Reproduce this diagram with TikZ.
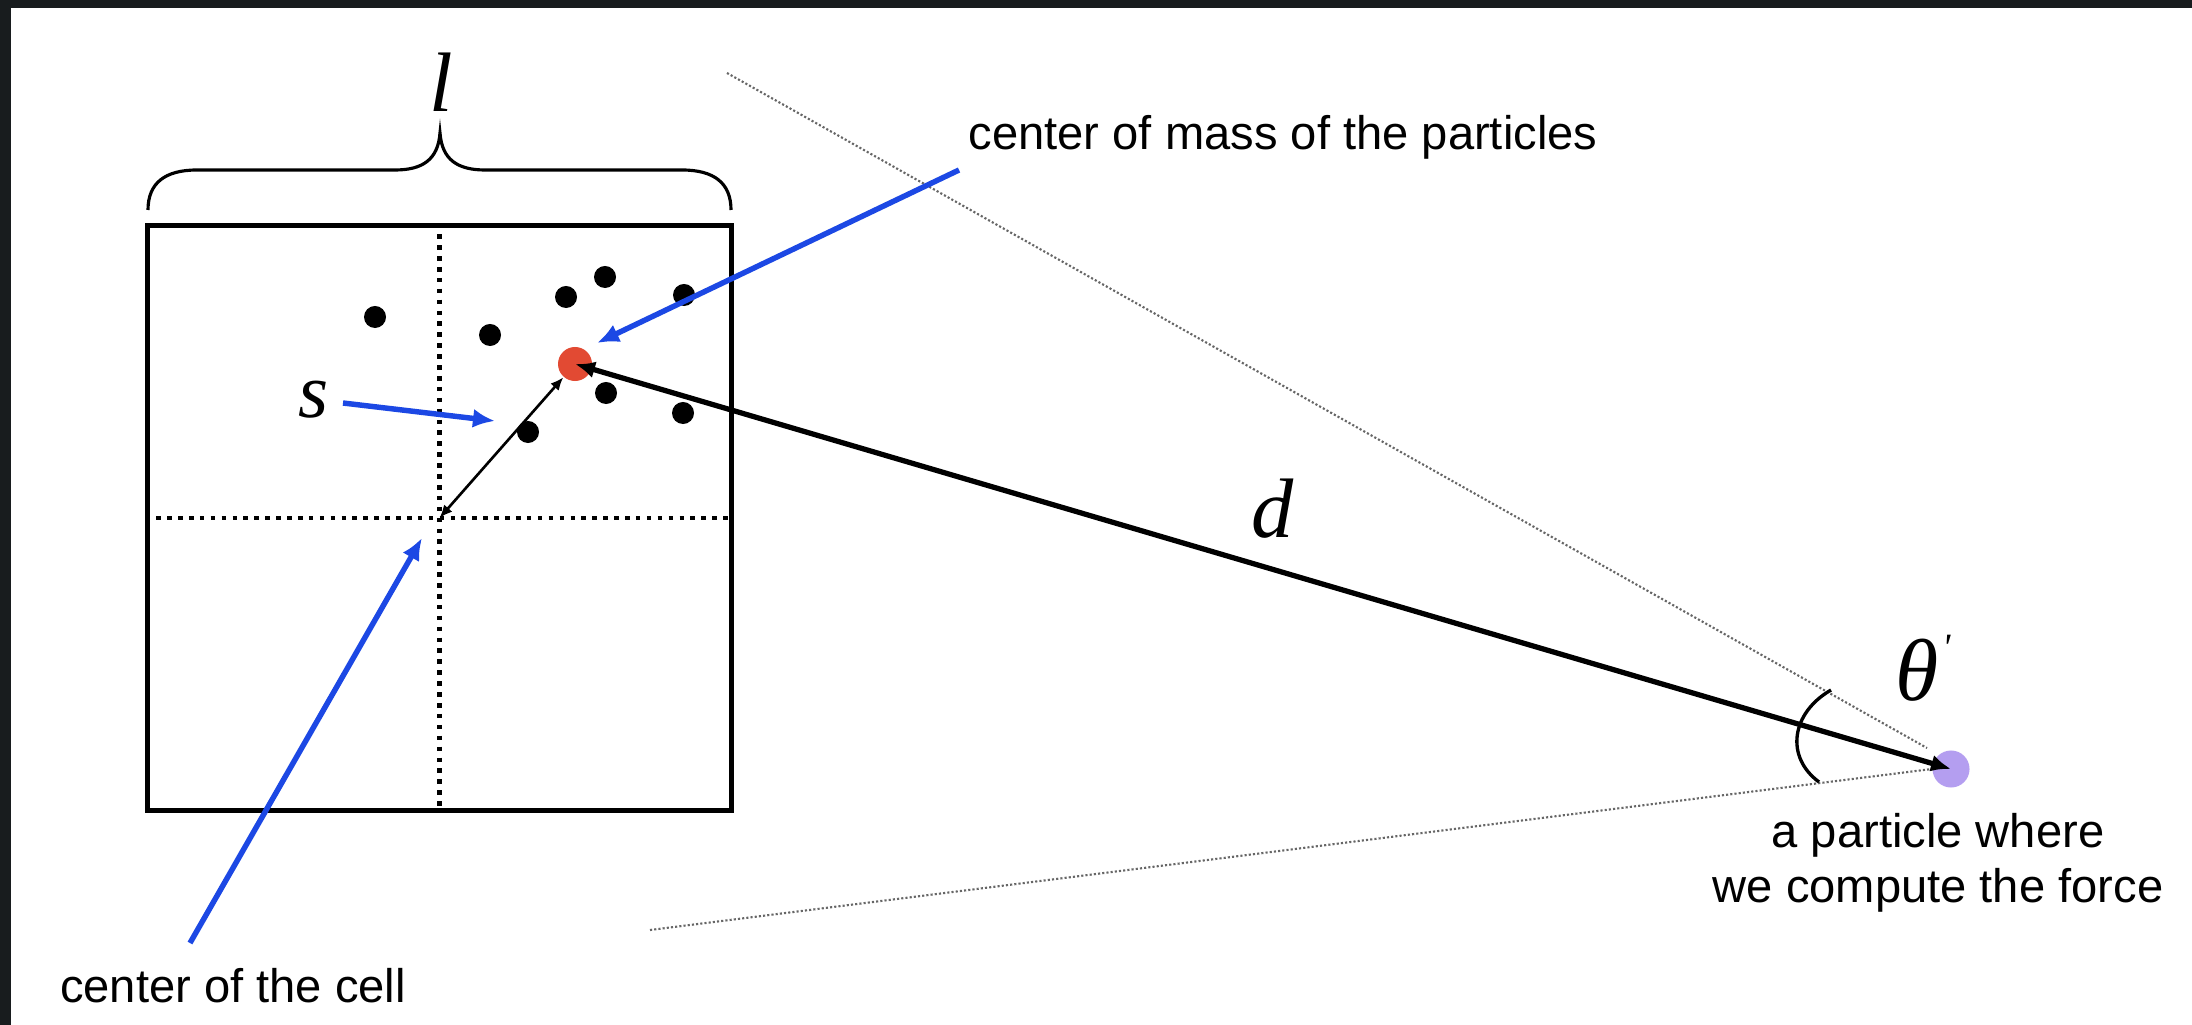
\documentclass[tikz,border=0pt]{standalone}
\usepackage{fontspec}
\setmainfont{Liberation Sans}
\newfontfamily\tms{Liberation Serif}
\usetikzlibrary{arrows.meta}
\definecolor{framedark}{RGB}{24,28,30}
\definecolor{arrblue}{RGB}{28,72,228}
\definecolor{comred}{RGB}{226,74,51}
\definecolor{ppurple}{RGB}{180,158,240}
\begin{document}
\begin{tikzpicture}[x=0.01cm,y=-0.01cm,
  lbl/.style={font=\fontsize{13.4pt}{15.65pt}\selectfont, inner sep=0pt},
  mathlbl/.style={font=\tms\itshape\fontsize{24pt}{28pt}\selectfont, inner sep=0pt},
  particle/.style={circle, fill=black, minimum size=0.22cm, inner sep=0pt},
  bluearrow/.style={draw=arrblue, line width=1.55pt, -{Latex[length=0.22cm,width=0.19cm]}},
  celldiv/.style={line width=1.3pt, dash pattern=on 1.3pt off 1.8pt},
  cone/.style={draw=black!60, line width=0.6pt, dash pattern=on 0.6pt off 0.6pt},
  cellbox/.style={draw, line width=1.42pt, minimum width=5.83cm, minimum height=5.84cm, inner sep=0pt},
]
\fill[framedark] (0,0) rectangle (2192,1025);
\fill[white] (11,8) rectangle (2192,1025);
\useasboundingbox (0,0) rectangle (2192,1025);

% cell
\node[cellbox] (cell) at (439.5,518) {};
\draw[celldiv] (cell.north) -- (cell.south);
\draw[celldiv] (cell.west) -- (cell.east);
\coordinate (cc) at (cell.center);

% brace and its label
\draw[line width=0.9pt] (148,210) .. controls (148,183) and (165,170) .. (197,170) -- (395,170)
  .. controls (422,170) and (438,160) .. (440,133)
  .. controls (442,160) and (458,170) .. (485,170) -- (682,170)
  .. controls (714,170) and (731,183) .. (731,210);
\node[mathlbl] (lenlabel) at (441,82) {l};

% particles
\node[particle] (p1) at (375,317) {};
\node[particle] (p2) at (490,335) {};
\node[particle] (p3) at (566,297) {};
\node[particle] (p4) at (605,277) {};
\node[particle] (p5) at (684,295) {};
\node[particle] (p6) at (606,393) {};
\node[particle] (p7) at (683,413) {};
\node[particle] (p8) at (528,432) {};

\node[circle, fill=comred, minimum size=0.34cm, inner sep=0pt] (com) at (575,364) {};
\node[circle, fill=ppurple, minimum size=0.37cm, inner sep=0pt] (target) at (1951,769) {};

% cone
\coordinate (coneA) at (727,73);
\coordinate (coneAend) at (1927,748);
\coordinate (coneB) at (650,930);
\draw[cone] (coneA) -- (coneAend);
\draw[cone] (coneB) -- (target.west);

% distance d
\draw[line width=1.5pt, {Latex[length=0.2cm,width=0.17cm]}-{Latex[length=0.2cm,width=0.17cm]}] (com.center) -- (target.center);
\node[mathlbl] (dlabel) at (1273,509) {d};

% s
\draw[line width=0.75pt, {Latex[length=0.13cm,width=0.11cm]}-{Latex[length=0.13cm,width=0.11cm]}] (cc) -- (com);
\node[mathlbl, font=\tms\itshape\fontsize{22pt}{26pt}\selectfont] (slabel) at (314,400) {s};
\coordinate (stail) at (343,403);
\coordinate (shead) at (495,421);
\draw[bluearrow] (stail) -- (shead);

% angle
\draw[line width=0.95pt] (1831,690) .. controls (1791,713) and (1785,757) .. (1819,782);
\node[inner sep=0pt, font=\tms\itshape\fontsize{25pt}{30pt}\selectfont] (thlabel) at (1917,668) {θ\rlap{\raisebox{0.45em}{\fontsize{11pt}{11pt}\selectfont\kern1pt'}}};

% labels and blue arrows
\node[lbl, anchor=base west] (comlabel) at (968,150) {center of mass of the particles};
\coordinate (comtail) at (959,170);
\coordinate (comtip) at (597,343);
\draw[bluearrow] (comtail) -- (comtip);

\node[lbl, anchor=base] (celllabel) at (233,1002) {center of the cell};
\coordinate (celltail) at (190,943);
\coordinate (celltip) at (422,538);
\draw[bluearrow] (celltail) -- (celltip);

\node[lbl, align=center, anchor=north] (tlabel) at (1938,813) {a particle where\\we compute the force};
\end{tikzpicture}
\end{document}
